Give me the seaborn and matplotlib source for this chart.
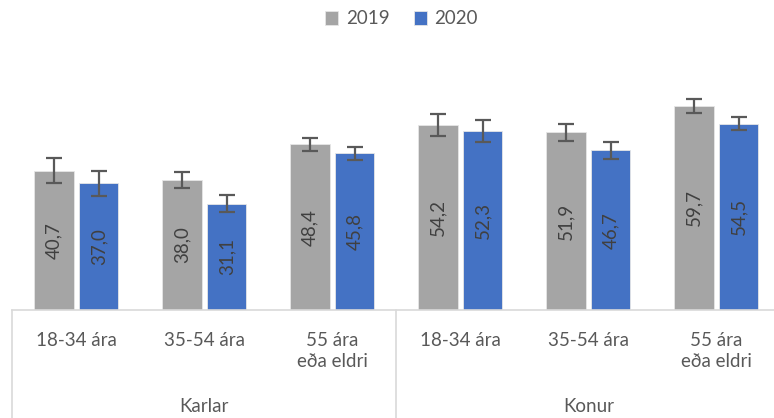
import numpy as np
import pandas as pd
import matplotlib
matplotlib.use("Agg")
import matplotlib.pyplot as plt
import matplotlib.transforms as mtransforms
import seaborn as sns

# ---- data ----
groups = ["Karlar", "Konur"]
age_labels = ["18-34 ára", "35-54 ára", "55 ára\neða eldri"]
categories = ["K 18-34", "K 35-54", "K 55+", "W 18-34", "W 35-54", "W 55+"]
tick_labels = age_labels + age_labels
years = ["2019", "2020"]
values_2019 = [40.7, 38.0, 48.4, 54.2, 51.9, 59.7]
values_2020 = [37.0, 31.1, 45.8, 52.3, 46.7, 54.5]
err_2019 = [3.7, 2.3, 2.0, 3.2, 2.4, 2.1]
err_2020 = [3.6, 2.4, 1.9, 3.3, 2.5, 2.0]

df = pd.DataFrame({
    "cat": categories * 2,
    "year": [years[0]] * 6 + [years[1]] * 6,
    "value": values_2019 + values_2020,
    "err": err_2019 + err_2020,
})

sns.set_theme(style="white")
plt.rcParams["font.family"] = ["Lato", "DejaVu Sans"]

text_color = "#595959"
palette = {"2019": "#a5a5a5", "2020": "#4472c4"}

fig = plt.figure(figsize=(7.74, 4.18), dpi=100)
ax = fig.add_axes([12.4 / 774, (418 - 310) / 418, (774 - 12.4) / 774, 260 / 418])

sns.barplot(data=df, x="cat", y="value", hue="year", order=categories,
            hue_order=years, palette=palette, errorbar=None,
            width=0.70, gap=0.123, saturation=1, ax=ax,
            edgecolor="#e6e6e6", linewidth=0.6, legend=True)

errs = {"2019": err_2019, "2020": err_2020}
for cont, yr in zip(ax.containers, years):
    xs = [p.get_x() + p.get_width() / 2 for p in cont.patches]
    hs = [p.get_height() for p in cont.patches]
    ax.errorbar(xs, hs, yerr=errs[yr], fmt="none", ecolor="#595959",
                elinewidth=1.6, capsize=5.5, capthick=1.6, zorder=5)
    for x, h in zip(xs, hs):
        ax.text(x, h / 2, f"{h:.1f}".replace(".", ","), rotation=90,
                ha="center", va="center", fontsize=13.5, color="#404040")

ax.set_xlim(-0.5, 5.45)
ax.set_ylim(0, 76)
ax.set_yticks([])
ax.set_xlabel("")
ax.set_ylabel("")
for s in ["left", "right", "top"]:
    ax.spines[s].set_visible(False)
ax.spines["bottom"].set_color("#d9d9d9")
ax.spines["bottom"].set_linewidth(1.2)

ax.set_xticks(range(len(categories)))
ax.set_xticklabels(tick_labels, fontsize=13.5, color=text_color)
ax.tick_params(axis="x", length=0, pad=15.5)
for t in ax.get_xticklabels():
    t.set_linespacing(1.35)
    t.set_multialignment("center")

trans = mtransforms.blended_transform_factory(ax.transData, ax.transAxes)
bottom = -108 / 260
for xd in [-0.5, 2.5]:
    ax.plot([xd, xd], [0, bottom], transform=trans, color="#d9d9d9",
            lw=1.2, clip_on=False)
for gi, g in enumerate(groups):
    ax.text(gi * 3 + 1, -(407 - 310) / 260, g, transform=trans,
            ha="center", va="center", fontsize=13.5, color=text_color)

leg = ax.legend(loc="center", bbox_to_anchor=((401.5 - 12.4) / 761.6, (310 - 19) / 260),
                bbox_transform=ax.transAxes, ncol=2, frameon=False,
                fontsize=13.5, handlelength=0.7, handleheight=0.7,
                columnspacing=1.3, handletextpad=0.4)
for t in leg.get_texts():
    t.set_color(text_color)

fig.savefig("out.png", dpi=100)
